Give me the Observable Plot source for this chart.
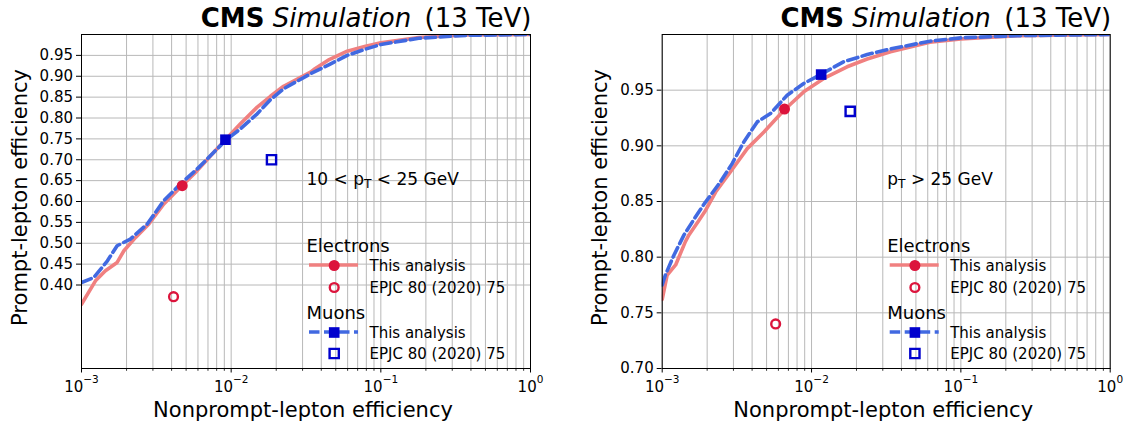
<!DOCTYPE html>
<html><head><meta charset="utf-8">
<script src="https://cdn.jsdelivr.net/npm/d3@7"></script>
<script src="https://cdn.jsdelivr.net/npm/@observablehq/plot@0.6"></script>
<style>
html,body{margin:0;padding:0;background:#fff;}
#wrap{display:flex;width:1133px;height:431px;overflow:hidden;}
#wrap svg{display:block;flex:none;}
</style></head><body><div id="wrap"></div>
<script>
// ---------- shared axis values ----------
const xTickValues = [1e-3, 1e-2, 1e-1, 1];
const xTickLabels = ["10^{\u22123}", "10^{\u22122}", "10^{\u22121}", "10^{0}"];
const xMinorValues = [2e-3,3e-3,4e-3,5e-3,6e-3,7e-3,8e-3,9e-3,
                      2e-2,3e-2,4e-2,5e-2,6e-2,7e-2,8e-2,9e-2,
                      2e-1,3e-1,4e-1,5e-1,6e-1,7e-1,8e-1,9e-1];
const lowPtYTicks = [0.40,0.45,0.50,0.55,0.60,0.65,0.70,0.75,0.80,0.85,0.90,0.95];
const highPtYTicks = [0.70,0.75,0.80,0.85,0.90,0.95];

// ---------- texts ----------
const titleText = "**CMS** *Simulation*\u2009 (13 TeV)";
const xAxisLabel = "Nonprompt-lepton efficiency";
const yAxisLabel = "Prompt-lepton efficiency";
const lowPtLabel = "10 < p_{T} < 25 GeV";
const highPtLabel = "p_{T} > 25 GeV";
const electronsHeader = "Electrons";
const muonsHeader = "Muons";
const thisAnalysisLabel = "This analysis";
const referenceLabel = "EPJC 80 (2020) 75";

// ---------- 10 < pT < 25 GeV ----------
const lowElecNonprompt = [1.0e-3,1.24e-3,1.445e-3,1.73e-3,1.92e-3,2.30e-3,2.82e-3,3.55e-3,4.58e-3,5.93e-3,7.66e-3,9.16e-3,1.153e-2,1.493e-2,1.83e-2,2.24e-2,3.39e-2,3.63e-2,4.52e-2,5.96e-2,7.9e-2,0.1,0.179,0.37,1];
const lowElecPrompt    = [0.354,0.410,0.434,0.454,0.482,0.514,0.546,0.594,0.634,0.674,0.718,0.748,0.786,0.826,0.852,0.876,0.910,0.918,0.940,0.960,0.972,0.980,0.993,0.999,1.0];
const lowMuNonprompt = [1.0e-3,1.21e-3,1.49e-3,1.73e-3,2.12e-3,2.75e-3,3.55e-3,4.58e-3,5.93e-3,7.66e-3,9.16e-3,1.153e-2,1.493e-2,1.83e-2,2.24e-2,3.39e-2,4.52e-2,5.96e-2,7.9e-2,0.1,0.179,0.37,1];
const lowMuPrompt    = [0.406,0.418,0.458,0.494,0.510,0.546,0.602,0.642,0.678,0.718,0.746,0.774,0.810,0.844,0.870,0.906,0.928,0.950,0.965,0.976,0.991,0.998,1.0];
const lowElecThis = [4.71e-3, 0.638];
const lowElecRef  = [4.12e-3, 0.372];
const lowMuThis   = [9.16e-3, 0.748];
const lowMuRef    = [1.86e-2, 0.700];

// ---------- pT > 25 GeV ----------
const highElecNonprompt = [1.0e-3,1.08e-3,1.23e-3,1.43e-3,1.51e-3,1.76e-3,1.95e-3,2.28e-3,2.86e-3,3.71e-3,4.80e-3,6.53e-3,8.87e-3,1.208e-2,1.73e-2,2.36e-2,3.38e-2,6.2e-2,0.1,0.245,1];
const highElecPrompt    = [0.762,0.784,0.793,0.814,0.820,0.833,0.842,0.8585,0.8765,0.8975,0.9125,0.932,0.9485,0.9605,0.971,0.978,0.9845,0.993,0.996,0.999,1.0];
const highMuNonprompt = [1.0e-3,1.05e-3,1.20e-3,1.40e-3,1.67e-3,1.95e-3,2.45e-3,2.94e-3,3.52e-3,4.33e-3,5.31e-3,6.87e-3,8.87e-3,1.148e-2,1.64e-2,2.36e-2,3.38e-2,6.2e-2,0.1,0.245,1];
const highMuPrompt    = [0.775,0.784,0.802,0.820,0.836,0.8495,0.8675,0.884,0.9035,0.9215,0.929,0.9455,0.956,0.964,0.9755,0.982,0.987,0.994,0.997,0.999,1.0];
const highElecThis = [6.59e-3, 0.933];
const highElecRef  = [5.75e-3, 0.740];
const highMuThis   = [1.16e-2, 0.964];
const highMuRef    = [1.815e-2, 0.931];

// ---------- colours ----------
const elecLineColor = "#f08080";
const elecMarkColor = "#dc143c";
const muLineColor = "#4169e1";
const muMarkColor = "#0000cd";
const gridColor = "#b8b8b8";

const NS = "http://www.w3.org/2000/svg";
const xGridValues = [...xTickValues, ...xMinorValues];

function legendLine(x1, x2, y, stroke, dash) {
  return (index, scales, values, dims) => {
    const ml = dims && dims.marginLeft != null ? dims.marginLeft : 0;
    const mt = dims && dims.marginTop != null ? dims.marginTop : 34;
    const l = document.createElementNS(NS, "line");
    l.setAttribute("x1", ml + x1); l.setAttribute("x2", ml + x2);
    l.setAttribute("y1", mt + y); l.setAttribute("y2", mt + y);
    l.setAttribute("stroke", stroke); l.setAttribute("stroke-width", 3.6);
    if (dash) l.setAttribute("stroke-dasharray", dash);
    return l;
  };
}

function panel(o) {
  const H = 431, mt = 34, mb = 63, frameH = H - mt - mb;
  const elec = o.elecX.map((x, i) => ({x, y: o.elecY[i]}));
  const mu = o.muX.map((x, i) => ({x, y: o.muY[i]}));
  const pt = (a) => [{x: a[0], y: a[1]}];
  const lx = 225; // legend column offset from frame left
  const leg = (text, dx, dy, size) => Plot.text([text], {text: d => d, frameAnchor: "top-left", textAnchor: "start", lineAnchor: "bottom", dx, dy, fontSize: size, fill: "#000"});
  return Plot.plot({
    width: o.width, height: H,
    marginLeft: o.marginLeft, marginRight: o.marginRight, marginTop: mt, marginBottom: mb,
    style: {fontFamily: "DejaVu Sans", fontSize: "15px", background: "#fff", color: "#000", overflow: "visible"},
    x: {type: "log", domain: [1e-3, 1], ticks: xTickValues,
        tickFormat: d => xTickLabels[xTickValues.findIndex(v => Math.abs(v - d) < v * 1e-6)] ?? "",
        tickSize: 4.5, tickPadding: 8.5, label: null},
    y: {domain: o.yDomain, ticks: o.yTicks, tickFormat: d => d.toFixed(2), tickSize: 5, tickPadding: 3.5, label: null},
    marks: [
      Plot.ruleX(xGridValues, {stroke: gridColor, strokeWidth: 1}),
      Plot.ruleY(o.yTicks, {stroke: gridColor, strokeWidth: 1}),
      Plot.ruleX(xMinorValues, {stroke: "#000", strokeWidth: 0.8, insetTop: frameH, insetBottom: -2.8}),
      Plot.line(elec, {x: "x", y: "y", stroke: elecLineColor, strokeWidth: 3.6, strokeLinejoin: "round", clip: true}),
      Plot.line(mu, {x: "x", y: "y", stroke: muLineColor, strokeWidth: 3.6, strokeDasharray: "10.5,4.5", strokeLinejoin: "round", clip: true}),
      Plot.dot(pt(o.elecThis), {x: "x", y: "y", r: 5.5, fill: elecMarkColor}),
      Plot.dot(pt(o.elecRef), {x: "x", y: "y", r: 4.4, stroke: elecMarkColor, strokeWidth: 2.4, fill: "none"}),
      Plot.dot(pt(o.muThis), {x: "x", y: "y", symbol: "square", r: 6, fill: muMarkColor}),
      Plot.dot(pt(o.muRef), {x: "x", y: "y", symbol: "square", r: 5.2, stroke: muMarkColor, strokeWidth: 2.4, fill: "none"}),
      // pT range annotation
      leg(o.ptLabel, lx, 150, 17),
      // legend: electrons
      leg(electronsHeader, lx, 217, 18),
      legendLine(lx + 3, lx + 52, 231, elecLineColor, null),
      Plot.dot([0], {frameAnchor: "top-left", dx: lx + 27.7, dy: 231, r: 5.5, fill: elecMarkColor}),
      leg(thisAnalysisLabel, lx + 63, 236, 15),
      Plot.dot([0], {frameAnchor: "top-left", dx: lx + 27.7, dy: 253, r: 4.4, stroke: elecMarkColor, strokeWidth: 2.4, fill: "none"}),
      leg(referenceLabel, lx + 63, 258, 15),
      // legend: muons
      leg(muonsHeader, lx, 284, 18),
      legendLine(lx + 3, lx + 52, 298, muLineColor, "10.5,4.5"),
      Plot.dot([0], {frameAnchor: "top-left", dx: lx + 27.7, dy: 298, symbol: "square", r: 6, fill: muMarkColor}),
      leg(thisAnalysisLabel, lx + 63, 303, 15),
      Plot.dot([0], {frameAnchor: "top-left", dx: lx + 27.7, dy: 319, symbol: "square", r: 5.2, stroke: muMarkColor, strokeWidth: 2.4, fill: "none"}),
      leg(referenceLabel, lx + 63, 324, 15),
      // title & axis labels
      Plot.text([titleText], {text: d => d, frameAnchor: "top-right", textAnchor: "end", lineAnchor: "bottom", dx: 1, dy: -7.3, fontSize: 26, fill: "#000"}),
      Plot.text([xAxisLabel], {text: d => d, frameAnchor: "bottom", textAnchor: "middle", lineAnchor: "bottom", dx: -3, dy: 48.7, fontSize: 21, fill: "#000"}),
      Plot.text([yAxisLabel], {text: d => d, frameAnchor: "left", textAnchor: "middle", lineAnchor: "bottom", rotate: -90, dx: -55, dy: -4, fontSize: 21, fill: "#000"}),
      Plot.frame({stroke: "#000", strokeWidth: 1})
    ]
  });
}

// turn light markup (**bold**, *italic*, _{sub}, ^{sup}) into tspans
function richify(svg) {
  svg.querySelectorAll("text").forEach(t => {
    if (t.querySelector("tspan")) return;
    const s = t.textContent;
    if (!/(\*|_\{|\^\{)/.test(s)) return;
    const fs = parseFloat(getComputedStyle(t).fontSize) || 15;
    const parts = s.split(/(\*\*[^*]+\*\*|\*[^*]+\*|_\{[^}]*\}|\^\{[^}]*\})/).filter(p => p !== "");
    t.textContent = "";
    let shift = 0;
    for (const p of parts) {
      const ts = document.createElementNS(NS, "tspan");
      let target = 0;
      if (p.startsWith("**")) { ts.textContent = p.slice(2, -2); ts.setAttribute("font-weight", "bold"); }
      else if (p.startsWith("*")) { ts.textContent = p.slice(1, -1); ts.setAttribute("font-style", "italic"); }
      else if (p.startsWith("_{")) { ts.textContent = p.slice(2, -1); ts.setAttribute("font-size", (0.72 * fs).toFixed(2) + "px"); target = 0.2 * fs; }
      else if (p.startsWith("^{")) { ts.textContent = p.slice(2, -1); ts.setAttribute("font-size", (0.7 * fs).toFixed(2) + "px"); target = -0.62 * fs; }
      else { ts.textContent = p; }
      const dy = target - shift; shift = target;
      if (dy) ts.setAttribute("dy", dy.toFixed(2));
      ts.setAttribute("style", "white-space:pre");
      t.appendChild(ts);
    }
  });
}

const wrap = document.getElementById("wrap");
const left = panel({width: 566, marginLeft: 81, marginRight: 36, yDomain: [0.2, 1.0], yTicks: lowPtYTicks,
  elecX: lowElecNonprompt, elecY: lowElecPrompt, muX: lowMuNonprompt, muY: lowMuPrompt,
  elecThis: lowElecThis, elecRef: lowElecRef, muThis: lowMuThis, muRef: lowMuRef, ptLabel: lowPtLabel});
const right = panel({width: 567, marginLeft: 95.7, marginRight: 23.3, yDomain: [0.7, 1.0], yTicks: highPtYTicks,
  elecX: highElecNonprompt, elecY: highElecPrompt, muX: highMuNonprompt, muY: highMuPrompt,
  elecThis: highElecThis, elecRef: highElecRef, muThis: highMuThis, muRef: highMuRef, ptLabel: highPtLabel});
wrap.appendChild(left);
wrap.appendChild(right);
richify(left);
richify(right);
</script></body></html>
